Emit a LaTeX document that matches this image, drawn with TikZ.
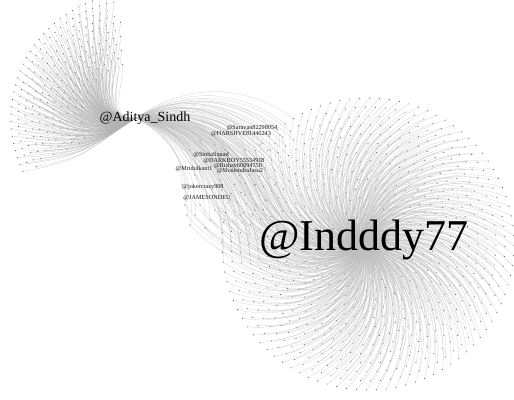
\documentclass[tikz,border=0pt]{standalone}
\usepackage{fontspec}
\setmainfont{Liberation Serif}
\usetikzlibrary{calc}
\begin{document}
\begin{tikzpicture}[x=1pt,y=1pt,
  edge/.style={draw=black!25, line width=0.12pt},
  dot/.style={circle, fill=black!60, inner sep=0pt, minimum size=1.2pt},
  lbl/.style={font=\fontsize{6.2}{7}\selectfont, inner sep=0pt, text=black!90},
  hublbl/.style={inner sep=0pt}]
\useasboundingbox (0,0) rectangle (514,399);
\fill[white] (0,0) rectangle (514,399);
\coordinate (A) at (136,281);
\coordinate (I) at (362,152);
% Indddy77 disk
\foreach \r [count=\k] in {20,29,...,146}{
  \pgfmathtruncatemacro{\n}{round(2*pi*\r/10)}
  \pgfmathsetmacro{\st}{360/\n}
  \foreach \j in {1,...,\n}{
    \pgfmathsetmacro{\a}{mod(\k*37,360)+\st*\j}
    \pgfmathsetmacro{\px}{368+\r*cos(\a)}
    \pgfmathsetmacro{\py}{155+\r*sin(\a)}
    \coordinate (i\k-\j) at (\px,\py);
    \draw[edge] (I) to[bend left=40] (i\k-\j);
    \pgfmathtruncatemacro{\lnk}{((\px<295)&&(\py>135))?1:0}
    \ifnum\lnk=1 \draw[edge] (A) to[bend left=35] (i\k-\j); \fi
    \node[dot] (di\k-\j) at (i\k-\j) {};
  }
}
% Aditya_Sindh fan
\foreach \r [count=\k] in {55,62,...,125}{
  \pgfmathtruncatemacro{\n}{round(\r*1.833/7.5)}
  \foreach \j in {1,...,\n}{
    \pgfmathsetmacro{\t}{100+105/\n*(\j-0.5)+mod(\k*3,7)-3}
    \pgfmathsetmacro{\o}{183+(\t-100)*0.28}
    \pgfmathsetmacro{\ii}{\t+165}
    \coordinate (a\k-\j) at ($(A)+(\t:\r)$);
    \draw[edge, draw=black!30] (A) to[out=\o,in=\ii,looseness=1.3] (a\k-\j);
    \node[dot] (da\k-\j) at (a\k-\j) {};
  }
}
% bridge nodes
\foreach \x/\y [count=\k] in {190/249,200/259,215/254,225/249,245/249,260/254,195/224,220/219,240/217,185/194,195/184,215/189,230/199,245/204,255/214,265/229,270/249,280/264,225/179,240/184,190/174,205/171,255/189,265/199,275/214,182/214,187/184,200/194,210/179,222/209}{
  \coordinate (b\k) at (\x,\y);
  \draw[edge] (A) to[bend left=35] (b\k);
  \draw[edge] (I) to[bend left=40] (b\k);
  \node[dot] (db\k) at (b\k) {};
}
% labelled bridge nodes
\foreach \x/\y [count=\k] in {252/271,241/265,211/244,234/238,238/233,194/230,240/228,203/212,207/201}{
  \coordinate (l\k) at (\x,\y);
  \draw[edge] (A) to[bend left=35] (l\k);
  \draw[edge] (I) to[bend left=40] (l\k);
}
\node[lbl] (sar) at (l1) {@Saravan82298054};
\node[lbl] (har) at (l2) {@HARSHVE81446243};
\node[lbl] (sin) at (l3) {@SinhaSquad};
\node[lbl] (dar) at (l4) {@DARKBOY55534918};
\node[lbl] (ris) at (l5) {@Rishav60094750};
\node[lbl] (mri) at (l6) {@Mridulkant1};
\node[lbl] (sha) at (l7) {@ShailendraJasu2};
\node[lbl] (jok) at (l8) {@jokercrazy908};
\node[lbl] (jam) at (l9) {@JAMESONDEU};
\node[hublbl, font=\fontsize{14}{14}\selectfont] (adi) at (145,281) {@Aditya\_Sindh};
\node[hublbl, font=\fontsize{44}{44}\selectfont] (ind) at (364,159) {@Indddy77};
\end{tikzpicture}
\end{document}
